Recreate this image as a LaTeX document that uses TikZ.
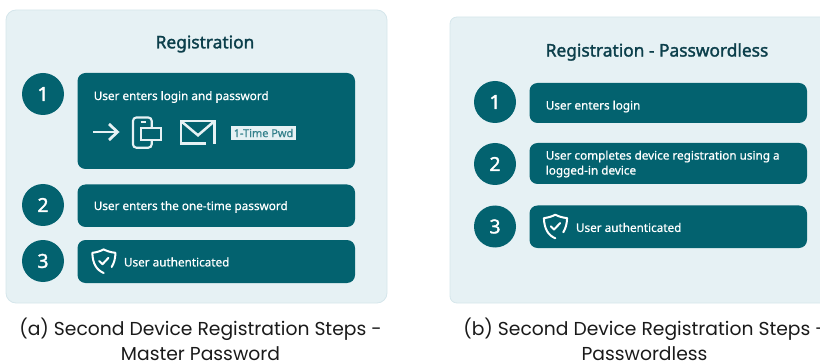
\documentclass[tikz,border=0pt]{standalone}
\usepackage{fontspec}
\setmainfont{Noto Sans}
\newfontfamily\capfont{Poppins}
\newfontfamily\medfont[FakeBold=0.7]{Noto Sans}
\newfontfamily\numfont[FakeBold=1.7]{Noto Sans}
\definecolor{teal1}{HTML}{03626F}
\definecolor{panelbg}{HTML}{E6F1F4}
\definecolor{panelline}{HTML}{D5E6EB}
\definecolor{titlecol}{HTML}{0C3F4B}
\definecolor{capcol}{HTML}{1A1A1A}
\definecolor{iconcol}{HTML}{E6F1F4}
\newcommand{\numtxt}[1]{\raisebox{-1pt}{#1}}
\tikzset{
 panel/.style={fill=panelbg,draw=panelline,line width=0.6pt,rounded corners=7.5pt},
 stepbox/.style={fill=teal1,draw=none,rounded corners=6pt},
 numdot/.style={circle,fill=teal1,minimum size=31.5pt,inner sep=0pt,text=white,font=\fontsize{14.5}{14.5}\selectfont\numfont},
 steptext/.style={anchor=west,inner sep=0pt,text=white,font=\fontsize{8.8}{11.2}\selectfont\medfont,align=left},
 paneltitle/.style={inner sep=0pt,text=titlecol,font=\fontsize{13}{15}\selectfont\numfont},
 captext/.style={inner sep=0pt,text=capcol,align=center,font=\fontsize{14.05}{18.6}\selectfont\capfont},
 iconline/.style={draw=iconcol,line width=2.1pt},
 shieldline/.style={draw=white,line width=1.5pt,line cap=round,line join=round,fill=none}
}
\newcommand{\shieldat}[2]{%
 \begin{scope}[shift={(#1,#2)}]
  \draw[shieldline] (11.2,23.6) -- (12,24) .. controls (5,21) and (1,15) .. (0.6,3.8)
     .. controls (5,3.4) and (9,2) .. (12,0.4) .. controls (15,2) and (19,3.4) .. (23.8,3.8)
     .. controls (23.6,9) and (22.5,14) .. (20,18);
  \draw[shieldline] (7.5,12) -- (10.8,15.2) -- (16.8,8.8);
 \end{scope}}
\begin{document}
\begin{tikzpicture}[x=0.75pt,y=-0.75pt]
\useasboundingbox (0,0) rectangle (820,363);
% left panel
\path[panel] (6,10) rectangle (387,303);
\node[paneltitle] (ta) at (205,44) {Registration};
\path[stepbox] (77.5,73) rectangle (355,169);
\path[stepbox] (77.5,184.5) rectangle (355,227);
\path[stepbox] (77.5,240) rectangle (355,283);
\node[numdot] (a1) at (43,94) {\numtxt{1}};
\node[numdot] (a2) at (43,205) {\numtxt{2}};
\node[numdot] (a3) at (43,261) {\numtxt{3}};
\node[steptext] (a1t) at (93.5,97) {User enters login and password};
\node[steptext] (a2t) at (93.5,207) {User enters the one-time password};
\node[steptext] (a3t) at (123.7,262) {User authenticated};
% icons
\draw[iconline] (93.3,132) -- (116,132);
\draw[iconline] (109,124) -- (117.5,132) -- (109,140);
\draw[iconline,line width=1.6pt,rounded corners=2.5pt] (151.7,128.3) -- (151.7,117.5) -- (133,117.5) -- (133,147.7) -- (151.7,147.7) -- (151.7,140);
\draw[iconline,line width=1.3pt] (140.5,121.7) -- (145.5,121.7);
\draw[iconline,line width=1.6pt] (140.7,128.3) rectangle (160.7,139.7);
\draw[iconline,line width=1.9pt] (206,143.5) -- (181,143.5) -- (181,121) -- (214.3,121) -- (214.3,144);
\draw[iconline,line width=1.9pt] (181.5,121.5) -- (198,135.3) -- (214,121.5);
\node[fill=iconcol,inner sep=0pt,minimum width=48.75pt,minimum height=10pt,text=teal1!80!white,font=\fontsize{8.2}{10}\selectfont\medfont] (pwd) at (263.5,133) {1-Time Pwd};
\shieldat{91.7}{249}
% right panel
\path[panel,rounded corners=0pt] (457,17) -- (826,17) -- (826,303) -- (457,303)
   .. controls (453,303) and (450,300) .. (450,296) -- (450,24) .. controls (450,20) and (453,17) .. (457,17) -- cycle;
\node[paneltitle] (tb) at (657,52) {Registration - Passwordless};
\path[stepbox] (529.5,83) rectangle (807,123);
\path[stepbox] (529.5,143) rectangle (807,184);
\path[stepbox] (529.5,205.5) rectangle (807,248);
\node[numdot] (b1) at (495,102) {\numtxt{1}};
\node[numdot] (b2) at (495,164) {\numtxt{2}};
\node[numdot] (b3) at (495,226.5) {\numtxt{3}};
\node[steptext] (b1t) at (545.5,106.5) {User enters login};
\node[steptext] (b2t) at (545.5,164) {User completes device registration using a\\logged-in device};
\node[steptext] (b3t) at (575.7,227.5) {User authenticated};
\shieldat{543.3}{214.3}
% captions
\node[captext] (ca) at (200.5,339) {(a) Second Device Registration Steps -\\Master Password};
\node[captext] (cb) at (644.5,339) {(b) Second Device Registration Steps -\\Passwordless};
\end{tikzpicture}
\end{document}
